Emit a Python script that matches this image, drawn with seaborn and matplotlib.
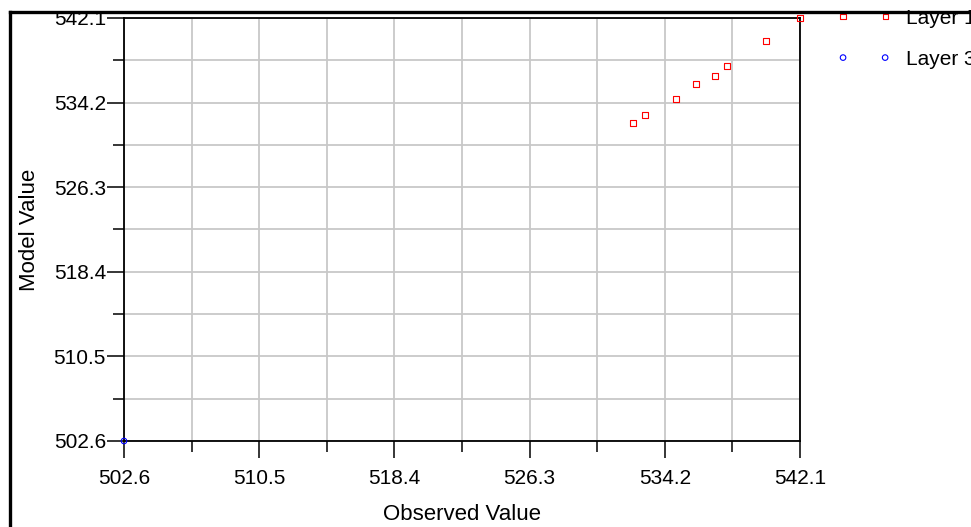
import matplotlib
matplotlib.use("Agg")
import matplotlib.pyplot as plt
import seaborn as sns
import pandas as pd
from matplotlib.lines import Line2D
from matplotlib.ticker import FixedLocator, FixedFormatter

# ---- data ----
layer1_observed = [532.34, 533.04, 534.85, 536.02, 537.13, 537.83, 540.11, 542.1]
layer1_model = [532.30, 533.04, 534.54, 535.94, 536.68, 537.62, 539.95, 542.1]
layer3_observed = [502.6]
layer3_model = [502.6]
major_ticks = [502.6, 510.5, 518.4, 526.3, 534.2, 542.1]
minor_ticks = [506.55, 514.45, 522.35, 530.25, 538.15]
tick_labels = ["502.6", "510.5", "518.4", "526.3", "534.2", "542.1"]
series_names = ["Layer 1", "Layer 3"]

sns.set_theme(style="white")
plt.rcParams["font.family"] = ["Liberation Sans", "DejaVu Sans"]

fig = plt.figure(figsize=(9.71, 5.27), dpi=100)
ax = fig.add_axes([124 / 971, 1 - 441 / 527, 676 / 971, 423 / 527])

df1 = pd.DataFrame({"obs": layer1_observed, "mod": layer1_model})
df3 = pd.DataFrame({"obs": layer3_observed, "mod": layer3_model})

sns.scatterplot(data=df1, x="obs", y="mod", ax=ax, marker="s", s=14,
                facecolors="none", edgecolors="#ff0000", linewidth=0.8,
                label=series_names[0], clip_on=False, zorder=5)
sns.scatterplot(data=df3, x="obs", y="mod", ax=ax, marker="o", s=16,
                facecolors="none", edgecolors="#0000ff", linewidth=0.8,
                label=series_names[1], clip_on=False, zorder=5)

ax.set_xlim(502.6, 542.1)
ax.set_ylim(502.6, 542.1)

for axis in (ax.xaxis, ax.yaxis):
    axis.set_major_locator(FixedLocator(major_ticks))
    axis.set_major_formatter(FixedFormatter(tick_labels))
    axis.set_minor_locator(FixedLocator(minor_ticks))

ax.grid(True, which="both", color="#c8c8c8", linewidth=1.3)
ax.set_axisbelow(True)
ax.tick_params(which="major", direction="out", length=12, width=1.1,
               color="black", labelsize=15, pad=8, labelcolor="black")
ax.tick_params(which="minor", direction="out", length=8, width=1.1,
               color="black")
ax.tick_params(axis="y", which="major", pad=1)
ax.tick_params(bottom=True, left=True, which="both")

for sp in ax.spines.values():
    sp.set_color("black")
    sp.set_linewidth(1.3)
    sp.set_visible(True)

ax.set_xlabel("Observed Value", fontsize=16, color="black", labelpad=12)
ax.set_ylabel("Model Value", fontsize=16, color="black", labelpad=10)

leg = ax.legend(loc="upper left", bbox_to_anchor=(836.8 / 971, 1 - 9 / 527),
                bbox_transform=fig.transFigure, frameon=False,
                scatterpoints=2, scatteryoffsets=[0.5], fontsize=15,
                handlelength=2.62, handletextpad=0.7, labelspacing=1.05,
                borderpad=0, borderaxespad=0)
for t in leg.get_texts():
    t.set_color("black")
for h, sz in zip(leg.legend_handles, [14, 16]):
    h.set_sizes([sz])
    h.set_linewidth(0.8)

# outer frame (partially visible)
fig.add_artist(Line2D([9.5 / 971, 9.5 / 971], [0, 1 - 12 / 527],
                      transform=fig.transFigure, color="black", linewidth=2.4,
                      solid_capstyle="projecting", zorder=10))
fig.add_artist(Line2D([9.5 / 971, 1.0], [1 - 12 / 527, 1 - 12 / 527],
                      transform=fig.transFigure, color="black", linewidth=2.4,
                      solid_capstyle="projecting", zorder=10))

fig.savefig("out.png", dpi=100)
